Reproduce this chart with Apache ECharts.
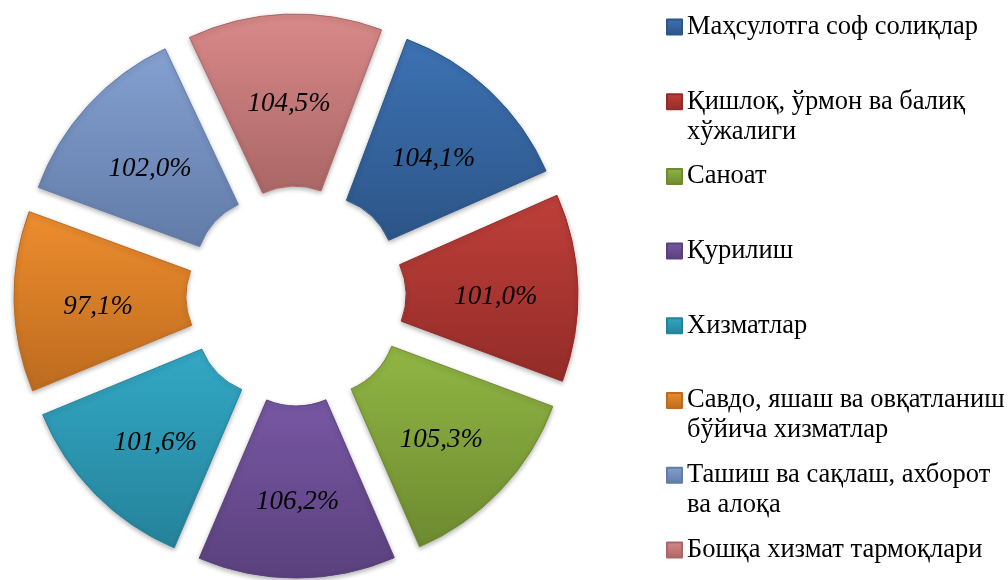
<!DOCTYPE html>
<html>
<head>
<meta charset="utf-8">
<script src="https://cdn.jsdelivr.net/npm/echarts@6/dist/echarts.min.js"></script>
<style>
  html, body { margin: 0; padding: 0; background: #fff; }
  #mainChart { width: 1008px; height: 580px; }
</style>
</head>
<body>
<div id="mainChart"></div>
<script>
var categories = [
  'Маҳсулотга соф солиқлар',
  'Қишлоқ, ўрмон ва балиқ\nхўжалиги',
  'Саноат',
  'Қурилиш',
  'Хизматлар',
  'Савдо, яшаш ва овқатланиш\nбўйича хизматлар',
  'Ташиш ва сақлаш, ахборот\nва алоқа',
  'Бошқа хизмат тармоқлари'
];
var values = [104.1, 101.0, 105.3, 106.2, 101.6, 97.1, 102.0, 104.5];
var colors = ['#3d72b3', '#bf3f3a', '#91b644', '#7757a3', '#33a8c5', '#ee8d2e', '#84a1d1', '#d98989'];
var darker = ['#2c5588', '#932c28', '#6d8a30', '#5a417d', '#25829a', '#bc6b1f', '#627ba8', '#aa6666'];

function chartInit() {
  var myChart = echarts.init(document.getElementById('mainChart'));

  var data = [];
  var legends = [];
  for (var i = 0; i < values.length; i++) {
    data.push({
      name: categories[i],
      value: values[i],
      selected: true,
      itemStyle: {
        color: new echarts.graphic.LinearGradient(0, 0, 0, 1, [
          {offset: 0, color: colors[i]},
          {offset: 1, color: darker[i]}
        ]),
        borderColor: darker[i],
        borderWidth: 1
      }
    });
    // one legend per item; two-line names get a blank line on top so
    // the first real line sits next to the icon
    var twoLines = categories[i].indexOf('\n') >= 0;
    var yc = 27 + i * 74.7;
    legends.push({
      data: [categories[i]],
      orient: 'vertical',
      left: 666,
      top: twoLines ? yc - 45 : yc - 15,
      padding: 0,
      itemWidth: 15,
      itemHeight: 15,
      icon: 'rect',
      selectedMode: false,
      formatter: twoLines ? function (name) { return '\n' + name; } : '{name}',
      textStyle: {
        fontFamily: 'Liberation Serif',
        fontSize: 26.5,
        color: '#000',
        lineHeight: 30
      }
    });
  }

  var option = {
    animation: false,
    legend: legends,
    series: [
      {
        name: 'ЯИМ',
        type: 'pie',
        center: [296, 296],
        radius: [75, 247],
        startAngle: 69.4,
        clockwise: true,
        selectedMode: 'multiple',
        selectedOffset: 35,
        avoidLabelOverlap: false,
        itemStyle: {
          shadowBlur: 5,
          shadowOffsetY: 2,
          shadowColor: 'rgba(0,0,0,0.3)'
        },
        label: {
          show: true,
          position: 'inside',
          formatter: function (p) {
            return p.value.toFixed(1).replace('.', ',') + '%';
          },
          fontFamily: 'Liberation Serif',
          fontStyle: 'italic',
          fontSize: 27,
          color: '#000'
        },
        labelLayout: { dx: 1, dy: 7 },
        labelLine: { show: false },
        emphasis: { disabled: true },
        data: data
      }
    ]
  };
  myChart.setOption(option);
}

chartInit();
</script>
</body>
</html>
